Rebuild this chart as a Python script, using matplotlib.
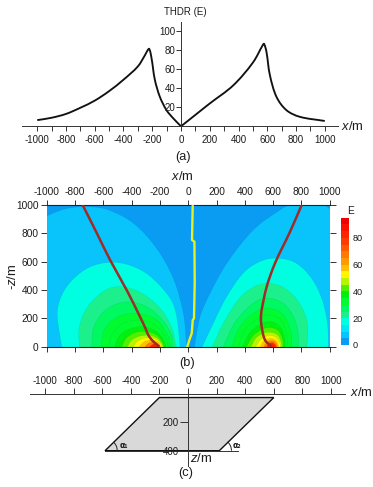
import matplotlib
matplotlib.use("Agg")
import matplotlib.pyplot as plt
from matplotlib.path import Path
from matplotlib.patches import PathPatch, Polygon, Arc
from matplotlib.colors import ListedColormap, BoundaryNorm
import numpy as np

plt.rcParams['font.family'] = ['Liberation Sans', 'DejaVu Sans']
plt.rcParams['axes.unicode_minus'] = False
plt.rcParams['mathtext.fontset'] = 'custom'
plt.rcParams['mathtext.rm'] = 'Liberation Sans'
plt.rcParams['mathtext.it'] = 'Liberation Sans:italic'

W, H = 373, 487
INK = '#1c1c1c'

# ---- panel (a) profile, two branches meeting at the cusp at x = 0
profile_left_x = [-1000,-900,-800,-700,-600,-500,-400,-300,-250,-232,-221,-205,-182,-147,-101,-54,0]
profile_left_y = [6.5,9,13,19.5,27,37,49,63,75,80,81.4,71.6,49,31,17,8.4,0]
profile_right_x = [0,100,200,363,500,571,578,594,618,664,733,826,1000]
profile_right_y = [0,12,24,43,67,86,86.7,78.6,54,31,17,10,5.6]
x_ticks = [-1000,-800,-600,-400,-200,0,200,400,600,800,1000]
a_y_ticks = [20,40,60,80,100]

# ---- panel (b) field: outlines, outermost level first (x, depth)
field_levels = [5,15,20,25,30,32,35,40,45,50,55,65,80]
left_outlines = [
 [(-1040,905),(-882,969),(-741,988),(-576,969),(-387,871),(-223,694),(-105,482),(-34,235),(-11,0)],
 [(-894,0),(-925,235),(-895,360),(-820,470),(-700,560),(-560,595),(-430,580),(-300,520),(-190,420),(-110,310),(-78,190),(-58,0)],
 [(-769,0),(-772,120),(-735,240),(-650,350),(-540,418),(-420,415),(-300,360),(-190,260),(-115,130),(-85,0)],
 [(-682,0),(-670,130),(-610,235),(-510,300),(-400,315),(-280,275),(-175,180),(-115,80),(-105,0)],
 [(-616,0),(-588,129),(-494,212),(-364,235),(-223,188),(-140,71),(-124,0)],
 [(-564,0),(-534,94),(-458,165),(-352,188),(-234,153),(-157,59),(-140,0)],
 [(-517,0),(-489,71),(-423,122),(-333,141),(-234,113),(-171,42),(-157,0)],
 [(-470,0),(-439,59),(-376,99),(-298,108),(-223,82),(-180,28),(-171,0)],
 [(-430,0),(-399,47),(-340,75),(-274,80),(-218,59),(-185,19),(-178,0)],
 [(-388,0),(-359,38),(-312,59),(-258,61),(-211,42),(-190,12),(-185,0)],
 [(-345,0),(-317,31),(-282,45),(-241,45),(-206,28),(-194,0)],
 [(-305,0),(-282,24),(-251,33),(-223,28),(-204,12),(-199,0)],
 [(-270,0),(-251,16),(-227,21),(-211,9),(-208,0)],
]
right_outlines = [
 [(44,0),(84,212),(154,376),(272,588),(460,824),(649,965),(767,1023),(908,1023),(1026,953),(1045,900)],
 [(100,0),(170,150),(272,353),(400,530),(530,610),(650,623),(770,585),(880,470),(950,320),(985,150),(990,0)],
 [(171,0),(248,165),(370,350),(470,425),(560,447),(670,420),(770,330),(835,200),(845,90),(838,0)],
 [(248,0),(319,153),(420,275),(510,335),(590,340),(680,300),(750,200),(778,90),(779,0)],
 [(307,0),(366,141),(460,235),(567,271),(673,224),(727,94),(732,0)],
 [(355,0),(402,118),(484,193),(571,224),(656,188),(696,82),(701,0)],
 [(383,0),(432,94),(501,153),(578,176),(649,141),(682,59),(685,0)],
 [(413,0),(456,75),(520,122),(578,136),(637,113),(668,47),(673,0)],
 [(444,0),(477,59),(531,94),(583,101),(633,82),(656,35),(661,0)],
 [(477,0),(508,47),(550,73),(590,78),(628,59),(649,19),(649,0)],
 [(508,0),(534,40),(567,56),(597,56),(628,38),(640,0)],
 [(534,0),(555,31),(583,42),(609,38),(628,14),(630,0)],
 [(555,0),(571,21),(595,28),(614,14),(619,0)],
]
red_left_x = [-746,-650,-552,-435,-341,-300,-282,-250,-204]
red_left_z = [1000,810,612,400,212,125,82,40,0]
red_right_x = [802,720,613,555,519,514,519,543,590]
red_right_z = [1000,812,588,424,259,200,141,47,0]
yellow_x = [32,27,44,46,41,32,25,8,-6]
yellow_z = [1000,753,741,450,200,188,94,47,0]
b_y_ticks = [0,200,400,600,800,1000]

bin_edges = [0,5,10,15,20,25,30,35,40,45,50,55,60,65,70,75,80,85,90,95]
bin_colors = ['#0a9cf2','#08c4fb','#00e6f8','#00ffe0','#1cf08c','#00f860','#00fb30','#00f010','#50f000',
              '#b8f400','#fff600','#ffc000','#ff9a00','#ff7a00','#ff5a00','#ff3c00','#ff2400','#fb1000','#f00000']
cbar_ticks = [0,20,40,60,80]

# ---- panel (c) body
body_x = [-200,600,219,-580]
body_z = [25,25,400,400]
c_z_ticks = [200,400]


def axes_px(left, top, right, bottom):
    return fig.add_axes([left / W, 1 - bottom / H, (right - left) / W, (bottom - top) / H])


def curve_codes(xs, ys, yscale=1.0):
    """Bezier segments through the read points; handles follow the neighbours' direction."""
    p = np.column_stack([xs, ys]).astype(float)
    s = p * [1.0, yscale]
    n = len(p)
    tang = np.zeros_like(s)
    tang[0] = s[1] - s[0]
    tang[-1] = s[-1] - s[-2]
    tang[1:-1] = s[2:] - s[:-2]
    tang /= np.maximum(np.hypot(*tang.T), 1e-9)[:, None]
    verts, codes = [tuple(p[0])], [Path.MOVETO]
    for i in range(n - 1):
        d = np.hypot(*(s[i + 1] - s[i])) / 3
        a = (s[i] + tang[i] * d) / [1.0, yscale]
        b = (s[i + 1] - tang[i + 1] * d) / [1.0, yscale]
        verts += [tuple(a), tuple(b), tuple(p[i + 1])]
        codes += [Path.CURVE4] * 3
    return verts, codes


def outline_path(pts):
    xs, ys = zip(*pts)
    verts, codes = curve_codes(xs, ys)
    verts += [(xs[-1], -5), (xs[0], -5), pts[0]]
    codes += [Path.LINETO, Path.LINETO, Path.CLOSEPOLY]
    return Path(verts, codes)


def smooth_line(ax, xs, ys, yscale=1.0, **kw):
    verts, codes = curve_codes(xs, ys, yscale)
    ax.add_patch(PathPatch(Path(verts, codes), fill=False, **kw))


fig = plt.figure(figsize=(W / 100, H / 100), dpi=100, facecolor='white')

# ---------- (a)
ax = axes_px(22, 21.7, 338, 126.3)
ax.set_xlim(-1106, 1092)
ax.set_ylim(0, 110)
for bx, by in ((profile_left_x, profile_left_y), (profile_right_x, profile_right_y)):
    smooth_line(ax, bx, by, yscale=0.95 / 0.1438, edgecolor='#111111', lw=1.35, clip_on=False, joinstyle='round')
for s in ('top', 'right'):
    ax.spines[s].set_visible(False)
ax.spines['left'].set_position(('data', 0))
for s in ('left', 'bottom'):
    ax.spines[s].set_color('#333333')
    ax.spines[s].set_linewidth(0.7)
ax.patch.set_alpha(0)
ax.set_xticks(x_ticks)
ax.set_xticklabels([str(v) for v in x_ticks])
ax.set_xticks(np.arange(-900, 1000, 200), minor=True)
ax.tick_params(axis='x', which='both', direction='out', length=3.5, width=0.7, color='#333333')
ax.tick_params(axis='x', labelsize=7, pad=2.5, labelcolor=INK)
ax.set_yticks(a_y_ticks)
ax.tick_params(axis='y', direction='out', length=3.5, width=0.7, color='#333333', labelsize=7, pad=0.5, labelcolor=INK)
fig.text(185 / W, 1 - 11.7 / H, 'THDR (E)', fontsize=7, ha='center', va='center', color=INK)
fig.text(341 / W, 1 - 127 / H, r'$\mathit{x}$/m', fontsize=9.4, ha='left', va='center', color=INK)
fig.text(183 / W, 1 - 157 / H, '(a)', fontsize=9.2, ha='center', va='center', color=INK)

# ---------- (b)
cmap = ListedColormap(bin_colors)
norm = BoundaryNorm(bin_edges, cmap.N)
ax = axes_px(46.7, 205, 329.7, 346.7)
ax.set_xlim(-1000, 1000)
ax.set_ylim(0, 1000)
ax.set_facecolor(cmap(norm(0)))
for outlines in (left_outlines, right_outlines):
    for level, pts in zip(field_levels, outlines):
        ax.add_patch(PathPatch(outline_path(pts), facecolor=cmap(norm(level)), edgecolor=(0, 0, 0, 0.07), lw=0.4, zorder=2))
smooth_line(ax, red_left_x, red_left_z, edgecolor='#a02c2a', lw=1.8, zorder=4)
smooth_line(ax, red_right_x, red_right_z, edgecolor='#a02c2a', lw=1.8, zorder=4)
ax.plot(yellow_x, yellow_z, color='#e4f020', lw=1.7, zorder=4)
ax.set_xticks(x_ticks)
ax.set_xticklabels([str(v) for v in x_ticks])
ax.set_yticks(b_y_ticks)
ax.tick_params(axis='x', top=True, bottom=True, labeltop=True, labelbottom=False, direction='out', length=3.5,
               width=0.7, labelsize=7.3, pad=2, labelcolor=INK, color='#333333')
ax.tick_params(axis='y', left=True, right=True, direction='out', length=4.5, width=0.7, labelsize=7.3, pad=1.5,
               labelcolor=INK, color='#333333')
for s in ('top', 'bottom'):
    ax.spines[s].set_linewidth(0.8)
    ax.spines[s].set_color('#222222')
for s in ('left', 'right'):
    ax.spines[s].set_visible(False)
fig.text(182 / W, 1 - 176 / H, r'$\mathit{x}$/m', fontsize=9.4, ha='center', va='center', color=INK)
fig.text(12 / W, 1 - 277 / H, r'-$\mathit{z}$/m', fontsize=9.4, rotation=90, ha='center', va='center', color=INK)
fig.text(187 / W, 1 - 363 / H, '(b)', fontsize=9.2, ha='center', va='center', color=INK)

cax = axes_px(341, 217.7, 349, 345)
cax.pcolormesh([0, 1], bin_edges, np.array(bin_edges[:-1]).reshape(-1, 1) + 1, cmap=cmap, norm=norm)
cax.set_xticks([])
cax.yaxis.tick_right()
cax.set_yticks(cbar_ticks)
cax.tick_params(axis='y', length=0, labelsize=6.6, pad=2.5, labelcolor=INK)
for s in cax.spines.values():
    s.set_visible(False)
fig.text(350 / W, 1 - 211 / H, 'E', fontsize=7.3, ha='center', va='center', color=INK)

# ---------- (c)
ax = axes_px(30, 394, 345, 466)
ax.set_xlim(-1105, 1098)
ax.set_ylim(508, 0)
ax.set_axisbelow(False)
ax.add_patch(Polygon(list(zip(body_x, body_z)), closed=True, facecolor='#d9d9d9', edgecolor='#111111', lw=1.0, zorder=1))
ax.plot([body_x[3], 352], [400, 400], color='#333333', lw=0.7, zorder=1.5)
ax.spines['left'].set_position(('data', 0))
ax.spines['top'].set_position(('data', 0))
for s in ('left', 'top'):
    ax.spines[s].set_color('#333333')
    ax.spines[s].set_linewidth(0.7)
for s in ('right', 'bottom'):
    ax.spines[s].set_visible(False)
ax.patch.set_alpha(0)
ax.xaxis.tick_top()
ax.set_xticks(x_ticks)
ax.set_xticklabels([str(v) for v in x_ticks])
ax.tick_params(axis='x', direction='out', length=4.5, width=0.7, labelsize=7, pad=1.5, labelcolor=INK, color='#333333')
ax.set_yticks(c_z_ticks)
ax.tick_params(axis='y', direction='out', length=6, width=0.7, labelsize=7, pad=0.5, labelcolor=INK, color='#333333')
ax.add_patch(Arc((body_x[3], 400), 170, 170, theta1=313, theta2=360, color='#222222', lw=0.7, zorder=5))
ax.add_patch(Arc((body_x[2], 400), 170, 170, theta1=313, theta2=360, color='#222222', lw=0.7, zorder=5))
fig.text(123.5 / W, 1 - 445.5 / H, 'α₁', fontsize=5.5, ha='center', va='center', color=INK, fontweight='bold', family='DejaVu Sans')
fig.text(236.5 / W, 1 - 445.5 / H, 'α₂', fontsize=5.5, ha='center', va='center', color=INK, fontweight='bold', family='DejaVu Sans')
fig.text(350 / W, 1 - 393 / H, r'$\mathit{x}$/m', fontsize=9.4, ha='left', va='center', color=INK)
fig.text(201 / W, 1 - 458 / H, r'$\mathit{z}$/m', fontsize=9.4, ha='center', va='center', color=INK)
fig.text(186 / W, 1 - 473 / H, '(c)', fontsize=9.2, ha='center', va='center', color=INK)

fig.savefig('out.png', dpi=100)
